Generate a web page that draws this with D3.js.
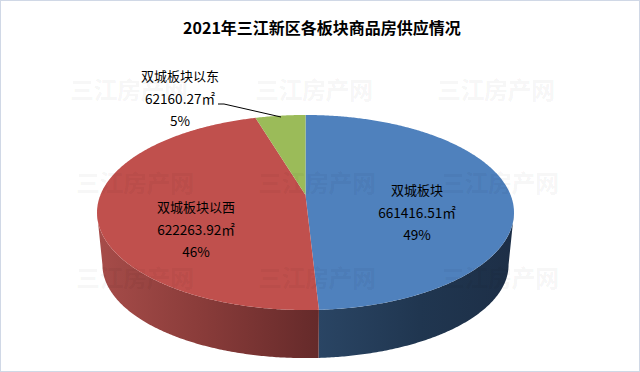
<!DOCTYPE html>
<html>
<head>
<meta charset="utf-8">
<script src="https://cdn.jsdelivr.net/npm/d3@7"></script>
<style>
html, body { margin: 0; padding: 0; background: #fff; }
svg { display: block; }
text { font-family: "Noto Sans CJK SC", "Noto Sans", sans-serif; }
</style>
</head>
<body>
<svg id="chart" width="640" height="372"></svg>
<script>
const title = "2021年三江新区各板块商品房供应情况";
const names = ["双城板块", "双城板块以西", "双城板块以东"];
const areas = [661416.51, 622263.92, 62160.27];
const colors = ["#4f81bd", "#c0504d", "#9bbb59"];
const unit = "㎡";
const watermark = "三江房产网";

const width = 640;
const height = 372;
const svg = d3.select("#chart");
const defs = svg.append("defs");

// tilted circle: p is the perspective strength, top and bottom faces share it
const cx = 305.5, cy = 195, a = 94.4, b = 205.1, p = 0.1795;
function project(angle, level) {
    let u = Math.sin(angle), v = -Math.cos(angle);
    let w = 1 - p * v;
    if (level == 0) return [cx + b * u / w, cy + a * v / w];
    return [cx + 0.974 * b * u / w, 248 + 0.957 * a * v / w];
}

const total = d3.sum(areas);
const slices = d3.pie().sort(null)(areas);
const step = Math.PI / 360;

function arcPoints(t0, t1, level) {
    let pts = d3.range(t0, t1, step).map(t => project(t, level));
    pts.push(project(t1, level));
    return pts;
}

// widest points of the ellipse, the wall is only seen between them
const tRight = Math.acos(-p);
const tLeft = 2 * Math.PI - tRight;

// side wall, shaded from left to right
const wallStops = [
    [[318, "#2a4564"], [420, "#203650"], [510, "#1d2f47"]],
    [[100, "#a64c49"], [200, "#8a3c3a"], [318, "#652a2a"]],
    [[100, "#7d9647"], [318, "#7d9647"]]
];
slices.forEach((s, i) => {
    let lo = Math.max(s.startAngle, tRight);
    let hi = Math.min(s.endAngle, tLeft);
    if (lo >= hi) return;
    let x0 = wallStops[i][0][0];
    let x1 = wallStops[i][wallStops[i].length - 1][0];
    let grad = defs.append("linearGradient")
        .attr("id", "wall" + i)
        .attr("gradientUnits", "userSpaceOnUse")
        .attr("x1", x0)
        .attr("x2", x1)
        .attr("y1", 0)
        .attr("y2", 0);
    wallStops[i].forEach(d => {
        grad.append("stop")
            .attr("offset", (d[0] - x0) / (x1 - x0))
            .attr("stop-color", d[1]);
    });
    let pts = arcPoints(lo, hi, 0).concat(arcPoints(lo, hi, 1).reverse());
    svg.append("path")
        .attr("d", d3.line()(pts) + "Z")
        .attr("fill", "url(#wall" + i + ")");
});

// top face
slices.forEach((s, i) => {
    let pts = arcPoints(s.startAngle, s.endAngle, 0);
    pts.push([cx, cy]);
    svg.append("path")
        .attr("d", d3.line()(pts) + "Z")
        .attr("fill", colors[i]);
});

// watermark grid
const markX = [[70, 255, 437], [76, 258, 441], [76, 258, 441]];
const markY = [99, 192, 287];
markY.forEach((y, r) => {
    markX[r].forEach(x => {
        svg.append("text")
            .attr("x", x)
            .attr("y", y)
            .attr("font-size", 24)
            .attr("font-weight", 700)
            .attr("letter-spacing", -0.5)
            .attr("fill", "#000")
            .attr("fill-opacity", 0.055)
            .text(watermark);
    });
});

// title
svg.append("text")
    .attr("x", 322)
    .attr("y", 34)
    .attr("text-anchor", "middle")
    .attr("font-size", 16)
    .attr("font-weight", 700)
    .attr("fill", "#000")
    .text(title);

// data labels
const labelPos = [[417, 195], [196, 212], [180, 81]];
const lineGap = 22.5;
names.forEach((n, i) => {
    let lines = [n, areas[i].toFixed(2) + unit, Math.round(areas[i] / total * 100) + "%"];
    lines.forEach((t, j) => {
        svg.append("text")
            .attr("x", labelPos[i][0])
            .attr("y", labelPos[i][1] + j * lineGap)
            .attr("text-anchor", "middle")
            .attr("font-size", j == 0 ? 13 : 13.6)
            .attr("fill", "#000")
            .text(t);
    });
});

// leader line for the small slice
svg.append("path")
    .attr("d", d3.line()([[218, 104], [224, 104], [281, 117]]))
    .attr("fill", "none")
    .attr("stroke", "#000")
    .attr("stroke-width", 1);

// outer border
svg.append("rect")
    .attr("x", 0.5)
    .attr("y", 0.5)
    .attr("width", width - 1)
    .attr("height", height - 1)
    .attr("fill", "none")
    .attr("stroke", "#d0d8e6");
</script>
</body>
</html>
